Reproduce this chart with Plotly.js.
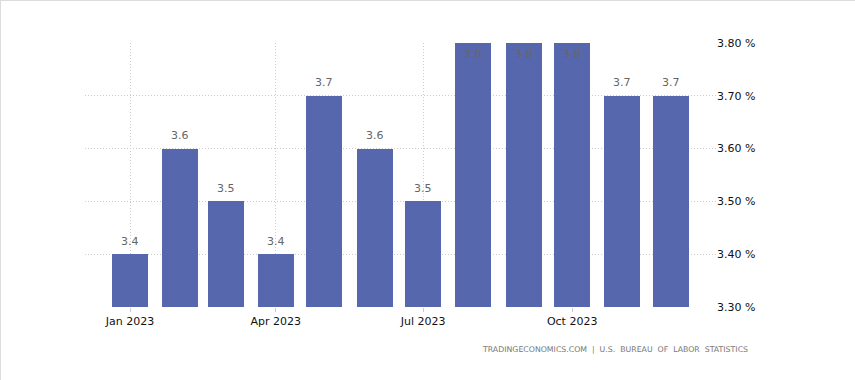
<!DOCTYPE html>
<html>
<head>
<meta charset="utf-8">
<script src="https://cdn.plot.ly/plotly-3.0.1.min.js"></script>
<style>
html,body{margin:0;padding:0;background:#fff;}
#chart{width:854px;height:379px;border-top:1px solid #dcdcdc;border-left:1px solid #dcdcdc;}
</style>
</head>
<body>
<div id="chart"></div>
<script>
const months = ['2023-01-01','2023-02-01','2023-03-01','2023-04-01','2023-05-01','2023-06-01','2023-07-01','2023-08-01','2023-09-01','2023-10-01','2023-11-01','2023-12-01'];
const unemployment = [3.4, 3.6, 3.5, 3.4, 3.7, 3.6, 3.5, 3.8, 3.8, 3.8, 3.7, 3.7];
const tickDates = ['2023-01-01','2023-04-01','2023-07-01','2023-10-01'];
const tickLabels = ['Jan 2023','Apr 2023','Jul 2023','Oct 2023'];
const yTicks = [3.3, 3.4, 3.5, 3.6, 3.7, 3.8];
const sourceText = 'TRADINGECONOMICS.COM  |  U.S.  BUREAU  OF  LABOR  STATISTICS';

const yMax = 3.8;
const annotations = months.map((m, i) => {
  const v = unemployment[i];
  const atTop = v >= yMax;
  return {
    x: m, y: v, xref: 'x', yref: 'y',
    text: v.toFixed(1),
    showarrow: false,
    yshift: atTop ? -11 : 13,
    font: {family: 'DejaVu Sans, Verdana, sans-serif', size: 11, color: '#666666'}
  };
});
annotations.push({
  xref: 'paper', yref: 'paper', x: 1.0535, y: -0.16,
  xanchor: 'right', yanchor: 'middle',
  text: sourceText, showarrow: false,
  font: {family: 'DejaVu Sans, Verdana, sans-serif', size: 7.8, color: '#777777'}
});

const trace = {
  type: 'bar',
  x: months,
  y: unemployment.map(v => v - 3.3),
  base: 3.3,
  width: 22.2 * 86400000,
  marker: {color: '#5767ad'},
  hoverinfo: 'skip'
};

const layout = {
  width: 854, height: 379,
  margin: {l: 84, r: 139, t: 42, b: 73},
  paper_bgcolor: '#ffffff', plot_bgcolor: '#ffffff',
  showlegend: false,
  bargap: 0,
  xaxis: {
    type: 'date',
    range: ['2022-12-04 04:00', '2023-12-28 20:00'],
    tickvals: tickDates, ticktext: tickLabels,
    showgrid: true, gridcolor: '#cccccc', griddash: '1px,2px', gridwidth: 1,
    ticks: 'outside', ticklen: 4, tickcolor: '#cccccc',
    showline: false, zeroline: false,
    tickfont: {family: 'DejaVu Sans, Verdana, sans-serif', size: 11, color: '#111111'}
  },
  yaxis: {
    side: 'right',
    range: [3.3, 3.8],
    tickvals: yTicks,
    ticktext: yTicks.map(v => v.toFixed(2) + ' %'),
    showgrid: true, gridcolor: '#cccccc', griddash: '1px,2px', gridwidth: 1,
    zeroline: false, showline: false, ticks: '',
    tickfont: {family: 'DejaVu Sans, Verdana, sans-serif', size: 11, color: '#111111'}
  },
  annotations: annotations
};

Plotly.newPlot('chart', [trace], layout, {displayModeBar: false, staticPlot: true});
</script>
</body>
</html>
